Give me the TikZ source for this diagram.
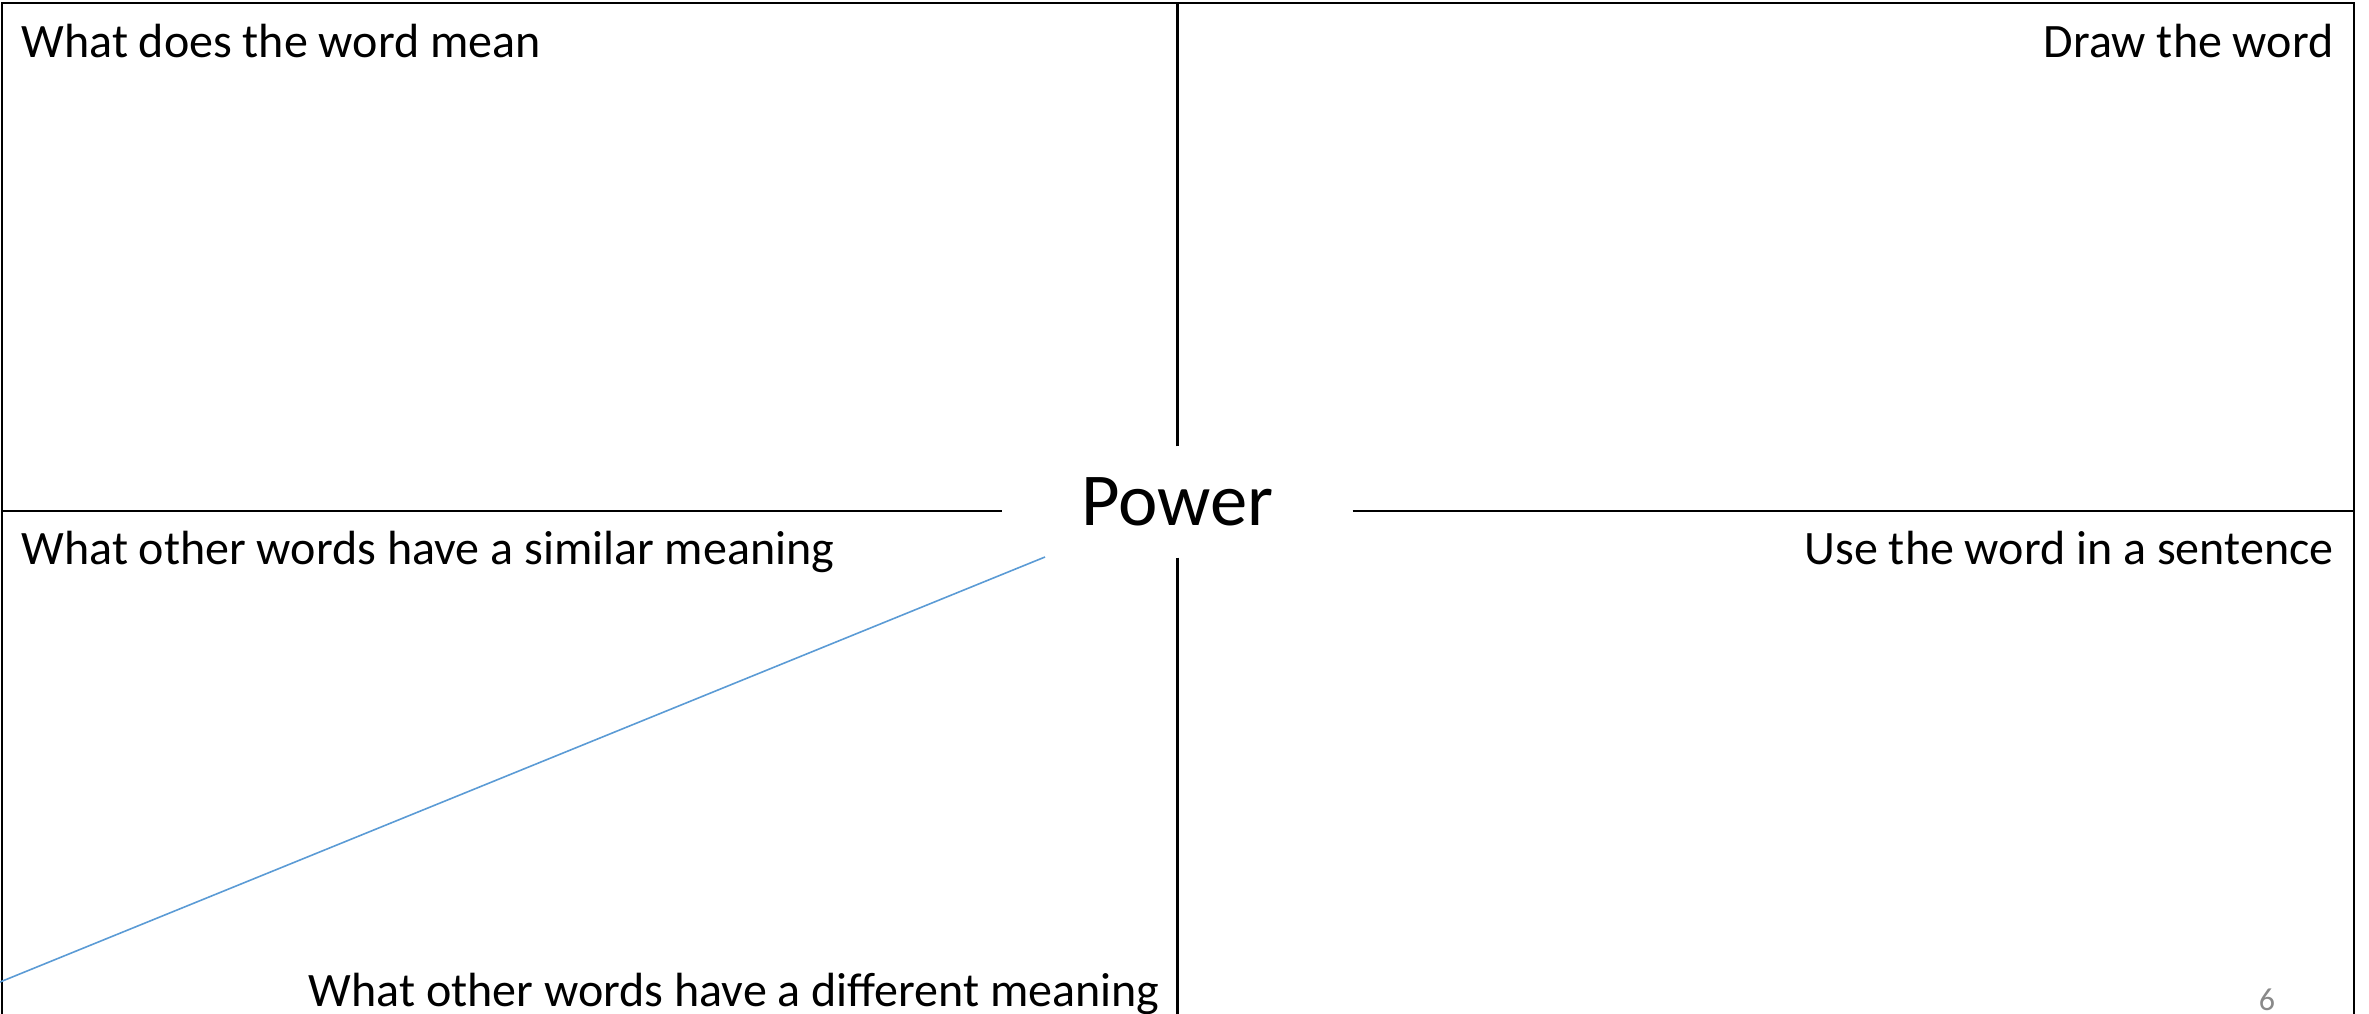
\documentclass[tikz,border=0pt]{standalone}
\usepackage{fontspec}
\setmainfont{Carlito}
\usetikzlibrary{calc}
\definecolor{slideblue}{RGB}{91,155,213}
\definecolor{pagegray}{RGB}{137,137,137}

\begin{document}
\begin{tikzpicture}[x=0.375pt, y=-0.375pt,
  frame/.style={draw=black, line width=1pt},
  prompt/.style={inner sep=0pt, font=\fontsize{18}{21.6}\selectfont},
  word/.style={inner sep=0pt, minimum width=130.9pt, minimum height=41.25pt,
               font=\fontsize{28}{33.6}\selectfont},
  ]

\useasboundingbox (0,0) rectangle (2369,1014);

% ======================================================================
% Outer frame (open at the bottom)
% ======================================================================
\coordinate (tl) at (2,3);
\coordinate (tr) at (2354,3);
\coordinate (bl) at (2,1014);
\coordinate (br) at (2354,1014);
\draw[frame] (bl) -- (tl) -- (tr) -- (br);

% ======================================================================
% Centre word and the cross
% ======================================================================
\node[word] (word) at (1177.5,502) {Power};
\coordinate (hmid) at (0,511);

\draw[frame] (tl |- hmid) -- (word.west |- hmid);
\draw[frame] (word.east |- hmid) -- (tr |- hmid);
\draw[frame] (word.north) -- (word.north |- tl);
\draw[frame] (word.south) -- (word.south |- bl);

% ======================================================================
% Prompts in the four quarters
% ======================================================================
\node[prompt, anchor=base west] (mean) at (21,57) {What does the word mean};
\node[prompt, anchor=base east] (draw) at (2334,57) {Draw the word};
\node[prompt, anchor=base west] (similar) at (21,564)
  {What other words have a similar meaning};
\node[prompt, anchor=base east] (sentence) at (2334,564)
  {Use the word in a sentence};
\node[prompt, anchor=base east] (different) at (1160,1006)
  {What other words have a different meaning};

% Slide number
\node[inner sep=0pt, anchor=base, text=pagegray,
      font=\fontsize{12}{14}\selectfont] (page) at (2267,1010) {6};

% ======================================================================
% Blue stroke across the lower left quarter
% ======================================================================
\coordinate (sa) at (1045,557);
\coordinate (sb) at (0,982);
\draw[slideblue, line width=0.6pt] (sa) -- (sb);

\end{tikzpicture}
\end{document}
